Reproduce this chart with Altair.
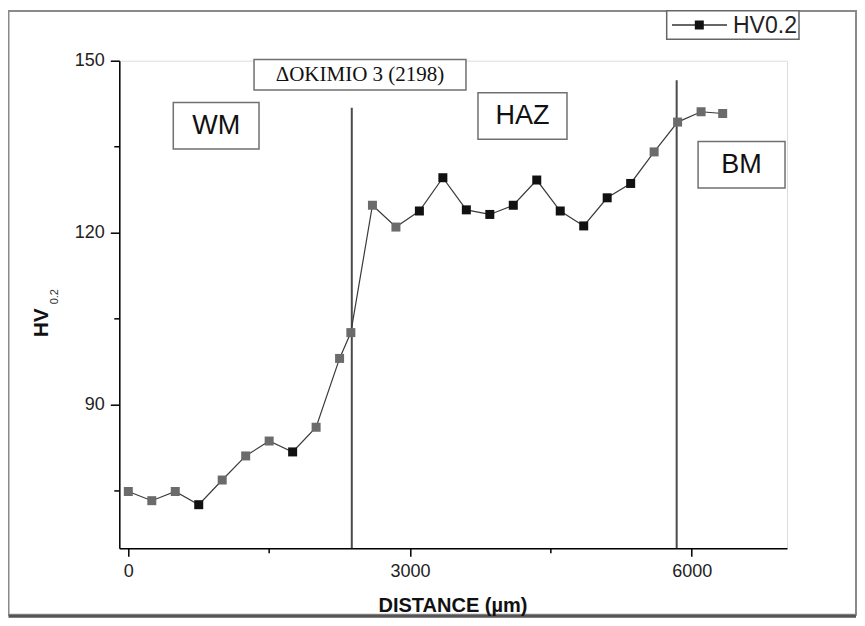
import altair as alt
import pandas as pd

# ---- data ----
distance = [0, 250, 500, 750, 1000, 1250, 1500, 1750, 2000, 2250, 2370,
            2600, 2850, 3100, 3350, 3600, 3850, 4100, 4350, 4600, 4850,
            5100, 5350, 5600, 5850, 6100, 6330]
hv = [74.9, 73.3, 74.9, 72.6, 76.9, 81.1, 83.7, 81.8, 86.1, 98.1, 102.6,
      124.8, 121.0, 123.8, 129.6, 124.0, 123.2, 124.8, 129.2, 123.8, 121.2,
      126.1, 128.6, 134.1, 139.3, 141.1, 140.8]
shade = ["g", "g", "g", "k", "g", "g", "g", "k", "g", "g", "g",
         "g", "g", "k", "k", "k", "k", "k", "k", "k", "k",
         "k", "k", "g", "g", "g", "g"]

x_major = [0, 3000, 6000]
x_minor = [1500, 4500]
y_major = [90, 120, 150]
y_minor = [75, 105, 135]

zone_x = [2380, 5840]
zone_top = [141.8, 146.6]

notes = ["WM", "HAZ", "BM"]
note_x1 = [479, 3724, 6068]
note_x2 = [1392, 4672, 6994]
note_y1 = [134.6, 136.3, 127.8]
note_y2 = [142.7, 144.4, 135.9]

title_note = ["ΔOKIMIO 3 (2198)"]
title_x1 = [1339]
title_x2 = [3596]
title_y1 = [144.9]
title_y2 = [150.2]

W, H = 667.7, 487.6

df = pd.DataFrame({"distance": distance, "hv": hv, "shade": shade})
zones = pd.DataFrame({"x": zone_x, "top": zone_top, "bottom": [65, 65]})
boxes = pd.DataFrame({"label": notes, "x1": note_x1, "x2": note_x2,
                      "y1": note_y1, "y2": note_y2})
boxes["xc"] = (boxes.x1 + boxes.x2) / 2
boxes["yc"] = (boxes.y1 + boxes.y2) / 2
tbox = pd.DataFrame({"label": title_note, "x1": title_x1, "x2": title_x2,
                     "y1": title_y1, "y2": title_y2})
tbox["xc"] = (tbox.x1 + tbox.x2) / 2
tbox["yc"] = (tbox.y1 + tbox.y2) / 2

XS = alt.Scale(domain=[-96, 7015], nice=False, zero=False)
YS = alt.Scale(domain=[65, 150], nice=False, zero=False)

xaxis = alt.Axis(values=x_major, format="d", title=None, grid=False,
                 domainColor="black", domainWidth=1.5, tickColor="black",
                 tickWidth=1.5, tickSize=8, labelFont="Liberation Sans",
                 labelFontSize=18, labelColor="#222", labelPadding=6)
yaxis = alt.Axis(values=y_major, format="d", title=None, grid=False,
                 domainColor="black", domainWidth=1.5, tickColor="black",
                 tickWidth=1.5, tickSize=9, labelFont="Liberation Sans",
                 labelFontSize=18, labelColor="#222", labelPadding=6)

base = alt.Chart(df)

line = base.mark_line(color="#3a3a3a", strokeWidth=1.2).encode(
    x=alt.X("distance:Q", scale=XS, axis=xaxis),
    y=alt.Y("hv:Q", scale=YS, axis=yaxis),
)
pts = base.mark_point(shape="square", filled=True, size=81, opacity=1).encode(
    x=alt.X("distance:Q", scale=XS),
    y=alt.Y("hv:Q", scale=YS),
    color=alt.Color("shade:N", scale=alt.Scale(domain=["g", "k"], range=["#6b6b6b", "#111111"]), legend=None),
)

vlines = alt.Chart(zones).mark_rule(color="#4a4a4a", strokeWidth=2).encode(
    x=alt.X("x:Q", scale=XS), y=alt.Y("top:Q", scale=YS), y2="bottom:Q")

xminor = alt.Chart(pd.DataFrame({"v": x_minor})).mark_rule(color="black", strokeWidth=1.5).encode(
    x=alt.X("v:Q", scale=XS), y=alt.value(H), y2=alt.value(H + 5))
yminor = alt.Chart(pd.DataFrame({"v": y_minor})).mark_rule(color="black", strokeWidth=1.5).encode(
    y=alt.Y("v:Q", scale=YS), x=alt.value(-5), x2=alt.value(0))

box_rect = alt.Chart(boxes).mark_rect(fill="white", stroke="#707070", strokeWidth=1.5).encode(
    x=alt.X("x1:Q", scale=XS), x2="x2:Q", y=alt.Y("y1:Q", scale=YS), y2="y2:Q")
box_text = alt.Chart(boxes).mark_text(font="Liberation Sans", fontSize=27, color="#111",
                                      align="center", baseline="middle").encode(
    x=alt.X("xc:Q", scale=XS), y=alt.Y("yc:Q", scale=YS), text="label:N")

t_rect = alt.Chart(tbox).mark_rect(fill="white", stroke="#707070", strokeWidth=1.5).encode(
    x=alt.X("x1:Q", scale=XS), x2="x2:Q", y=alt.Y("y1:Q", scale=YS), y2="y2:Q")
t_text = alt.Chart(tbox).mark_text(font="Liberation Serif", fontSize=21, color="#111",
                                   align="center", baseline="middle").encode(
    x=alt.X("xc:Q", scale=XS), y=alt.Y("yc:Q", scale=YS), text="label:N")

one = pd.DataFrame({"a": [0]})

frame = alt.Chart(one).mark_rect(fillOpacity=0, stroke="#8a8a8a", strokeWidth=2).encode(
    x=alt.value(-110.8), x2=alt.value(736.7), y=alt.value(-49.7), y2=alt.value(554))
frame_bottom = alt.Chart(one).mark_rule(color="#555", strokeWidth=3).encode(
    x=alt.value(-110.8), x2=alt.value(736.7), y=alt.value(555.5))

x_title = alt.Chart(one).mark_text(text="DISTANCE (µm)", font="Liberation Sans", fontSize=20,
                                   fontWeight="bold", color="#111", align="center",
                                   baseline="middle").encode(x=alt.value(333.7), y=alt.value(545.3))
y_title = alt.Chart(one).mark_text(text="HV", font="Liberation Sans", fontSize=21,
                                   fontWeight="bold", color="#111", angle=270, align="center",
                                   baseline="middle").encode(x=alt.value(-77), y=alt.value(262))
y_sub = alt.Chart(one).mark_text(text="0.2", font="Liberation Sans", fontSize=11,
                                 color="#333", angle=270, align="center",
                                 baseline="middle").encode(x=alt.value(-64), y=alt.value(236))

leg_box = alt.Chart(one).mark_rect(fill="white", stroke="#666", strokeWidth=1.5).encode(
    x=alt.value(547.4), x2=alt.value(679.7), y=alt.value(-50), y2=alt.value(-21.4))
leg_line = alt.Chart(one).mark_rule(color="#333", strokeWidth=1.5).encode(
    x=alt.value(552.7), x2=alt.value(607.7), y=alt.value(-35.7))
leg_pt = alt.Chart(one).mark_point(shape="square", filled=True, size=81, color="#111", opacity=1).encode(
    x=alt.value(580), y=alt.value(-35.7))
leg_text = alt.Chart(one).mark_text(text="HV0.2", font="Liberation Sans", fontSize=23,
                                    color="#222", align="left", baseline="middle").encode(
    x=alt.value(613.7), y=alt.value(-35))

chart = alt.layer(
    frame, frame_bottom, vlines, line, pts, xminor, yminor,
    box_rect, box_text, t_rect, t_text, x_title, y_title, y_sub,
    leg_box, leg_line, leg_pt, leg_text,
).properties(
    width=W, height=H,
    autosize=alt.AutoSizeParams(type="none"),
    padding={"left": 111.3, "top": 52.7, "right": 70, "bottom": 69.7},
).configure_view(stroke=None).configure(background="white")

chart.save("out.html", embed_options={"renderer": "svg", "actions": False})
